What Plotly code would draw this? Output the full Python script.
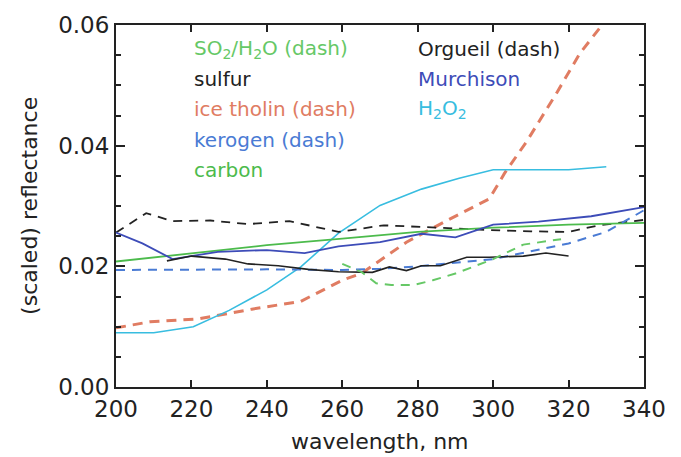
import plotly.graph_objects as go

# ---- data ----
orgueil_x = [200, 208, 215, 225, 235, 246, 259, 271, 286, 299, 310, 320, 328, 340]
orgueil_y = [0.0256, 0.0288, 0.0275, 0.0276, 0.0270, 0.0275, 0.0257, 0.0268, 0.0264, 0.0260, 0.0258, 0.0257, 0.0268, 0.0277]

murchison_x = [200, 207, 215, 227, 240, 250, 259, 270, 281, 290, 300, 312, 326, 340]
murchison_y = [0.0256, 0.0238, 0.0212, 0.0224, 0.0227, 0.0222, 0.0233, 0.0240, 0.0254, 0.0248, 0.0269, 0.0274, 0.0283, 0.0298]

carbon_x = [200, 220, 240, 260, 280, 300, 320, 340]
carbon_y = [0.0208, 0.0222, 0.0235, 0.0246, 0.0257, 0.0264, 0.0269, 0.0272]

kerogen_x = [200, 220, 240, 260, 270, 280, 290, 300, 310, 320, 330, 340]
kerogen_y = [0.0194, 0.0195, 0.0195, 0.0194, 0.0196, 0.0200, 0.0206, 0.0212, 0.0225, 0.0238, 0.0257, 0.0293]

sulfur_x = [213.5, 220, 229, 235, 243, 251, 259, 268, 272.5, 277, 281, 286, 293, 299, 308, 314, 320]
sulfur_y = [0.0209, 0.0217, 0.0212, 0.0204, 0.0201, 0.0195, 0.0191, 0.0190, 0.0199, 0.0193, 0.0201, 0.0201, 0.0215, 0.0215, 0.0217, 0.0222, 0.0217]

so2_x = [260, 265, 269, 273, 279, 284, 290, 300, 308, 318]
so2_y = [0.0204, 0.0191, 0.0172, 0.0169, 0.0169, 0.0177, 0.0188, 0.0212, 0.0236, 0.0245]

tholin_x = [200, 209, 222, 236, 249, 260, 265, 277, 289, 299, 303, 309, 317, 323, 329, 340]
tholin_y = [0.0098, 0.0108, 0.0113, 0.0129, 0.0142, 0.0177, 0.0188, 0.0240, 0.0280, 0.0312, 0.0354, 0.0408, 0.0489, 0.0553, 0.0601, 0.0700]

h2o2_x = [200, 210, 220.5, 230, 240, 249, 259, 270, 281, 291, 300, 320, 330]
h2o2_y = [0.0090, 0.0090, 0.0100, 0.0127, 0.0161, 0.0199, 0.0255, 0.0301, 0.0328, 0.0346, 0.0360, 0.0360, 0.0365]

legend_left = ["SO<sub>2</sub>/H<sub>2</sub>O (dash)", "sulfur", "ice tholin (dash)", "kerogen (dash)", "carbon"]
legend_right = ["Orgueil (dash)", "Murchison", "H<sub>2</sub>O<sub>2</sub>"]

# ---- styles ----
C_GREEN = "#4cbb4c"
C_GREEN_D = "#66c866"
C_BLACK = "#222222"
C_RED = "#e07c62"
C_KERO = "#4a7bd4"
C_MURCH = "#3d4cb8"
C_CYAN = "#38bde0"

fig = go.Figure()

def add(x, y, color, dash="solid", width=1.6):
    fig.add_trace(go.Scatter(x=x, y=y, mode="lines",
                             line=dict(color=color, dash=dash, width=width),
                             showlegend=False, cliponaxis=True))

add(tholin_x, tholin_y, C_RED, dash="10px,7px", width=3)
add(h2o2_x, h2o2_y, C_CYAN, width=1.6)
add(orgueil_x, orgueil_y, C_BLACK, dash="9px,7px", width=1.8)
add(carbon_x, carbon_y, C_GREEN, width=1.8)
add(murchison_x, murchison_y, C_MURCH, width=1.8)
add(kerogen_x, kerogen_y, C_KERO, dash="9px,7px", width=2)
add(sulfur_x, sulfur_y, C_BLACK, width=1.6)
add(so2_x, so2_y, C_GREEN_D, dash="9px,7px", width=2)

FONT = "DejaVu Sans"
left_colors = [C_GREEN_D, C_BLACK, C_RED, C_KERO, C_GREEN]
right_colors = [C_BLACK, C_MURCH, C_CYAN]
ys_px = [39, 70, 101, 132, 163]
H = 457
T, B = 14, 70
plot_h = H - T - B

def ypaper(px):
    return (H - B - px) / plot_h

for txt, col, py in zip(legend_left, left_colors, ys_px):
    fig.add_annotation(text=txt, x=0.144, y=ypaper(py), xref="paper", yref="paper",
                       xanchor="left", yanchor="middle", showarrow=False,
                       font=dict(family=FONT, size=20, color=col))
for txt, col, py in zip(legend_right, right_colors, ys_px):
    fig.add_annotation(text=txt, x=0.569, y=ypaper(py), xref="paper", yref="paper",
                       xanchor="left", yanchor="middle", showarrow=False,
                       font=dict(family=FONT, size=20, color=col))

fig.add_annotation(text="wavelength, nm", x=0.5, y=ypaper(443), xref="paper", yref="paper",
                   xanchor="center", yanchor="middle", showarrow=False,
                   font=dict(family=FONT, size=22, color="#222"))
fig.add_annotation(text="(scaled) reflectance", x=-0.165, y=0.5, xref="paper", yref="paper",
                   xanchor="center", yanchor="middle", showarrow=False, textangle=-90,
                   font=dict(family=FONT, size=22, color="#222"))

fig.update_layout(
    width=681, height=457,
    margin=dict(l=116, r=37, t=T, b=B),
    paper_bgcolor="white", plot_bgcolor="white",
    font=dict(family=FONT, color="#222"),
)
fig.update_xaxes(range=[200, 340], dtick=20, tick0=200, showgrid=False, zeroline=False,
                 showline=True, linecolor="#222", linewidth=2, mirror="ticks",
                 ticks="inside", ticklen=7, tickwidth=1.5, tickcolor="#222",
                 tickfont=dict(family=FONT, size=23, color="#222"))
fig.update_yaxes(range=[0, 0.06], dtick=0.02, tick0=0, tickformat=".2f", showgrid=False,
                 zeroline=False, showline=True, linecolor="#222", linewidth=2, mirror="ticks",
                 ticks="inside", ticklen=9, tickwidth=1.5, tickcolor="#222",
                 tickfont=dict(family=FONT, size=23, color="#222"),
                 minor=dict(dtick=0.005, ticks="inside", ticklen=5, tickwidth=1.5, tickcolor="#222"))

fig.write_html("out.html")
